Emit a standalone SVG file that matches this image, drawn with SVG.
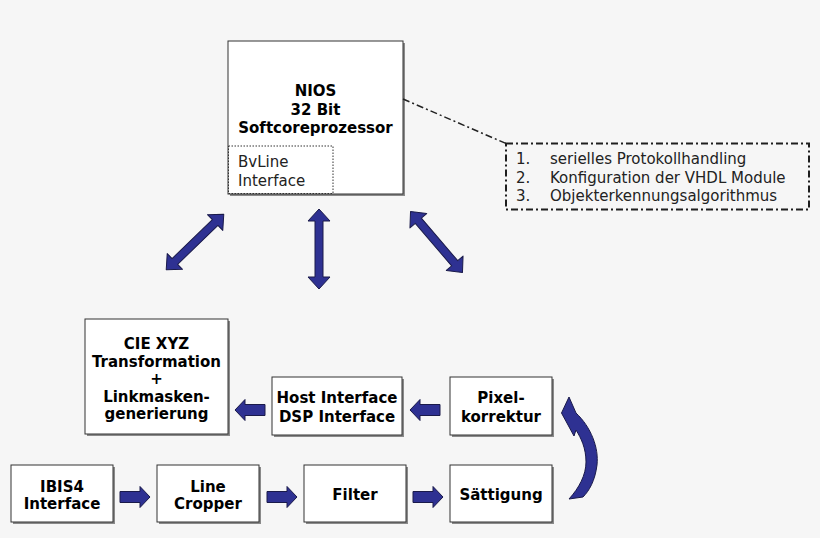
<svg xmlns="http://www.w3.org/2000/svg" width="820" height="538" viewBox="0 0 820 538">
<defs>
<style>
.bg{fill:#f6f6f6}
.shadow{fill:#8a8a8a}
.box{fill:#ffffff;stroke:#333333;stroke-width:1}
.b{font-family:"DejaVu Sans",Verdana,sans-serif;font-weight:bold;font-size:15px;fill:#000;text-anchor:middle}
.r{font-family:"DejaVu Sans",Verdana,sans-serif;font-size:15px;fill:#222}
.arr{fill:#2e3192;stroke:#1a1a4a;stroke-width:1;stroke-linejoin:round}
.dd{fill:none;stroke:#222;stroke-width:1.5;stroke-dasharray:7 3 2 3}
.ddb{fill:none;stroke:#1e1e1e;stroke-width:2;stroke-dasharray:7 3 2 3}
</style>
<path id="dbl" d="M-40,0 L-28,-11 L-28,-4 L28,-4 L28,-11 L40,0 L28,11 L28,4 L-28,4 L-28,11 Z"/>
<path id="rgt" d="M-15,-5.5 L5,-5.5 L5,-10.5 L15,0 L5,10.5 L5,5.5 L-15,5.5 Z"/>
</defs>
<rect class="bg" x="0" y="0" width="820" height="538"/>

<g id="nios">
<rect class="shadow" x="230" y="43" width="175" height="153"/>
<rect class="box" x="228" y="41" width="175" height="153"/>
<text class="b" x="315.5" y="96">NIOS</text>
<text class="b" x="315.5" y="114.5">32 Bit</text>
<text class="b" x="315.5" y="133" font-size="15.3">Softcoreprozessor</text>
</g>
<g id="bvline">
<rect x="228.5" y="146" width="104.5" height="47.5" fill="none" stroke="#333" stroke-width="1" stroke-dasharray="1.5 1.5"/>
<text class="r" x="238" y="167" font-size="15.5">BvLine</text>
<text class="r" x="238" y="186" font-size="15.5">Interface</text>
</g>
<g id="note">
<rect class="ddb" x="506" y="143.5" width="303" height="66"/>
<text class="r" x="516" y="164">1.</text>
<text class="r" x="550" y="164">serielles Protokollhandling</text>
<text class="r" x="516" y="182.5">2.</text>
<text class="r" x="550" y="182.5">Konfiguration der VHDL Module</text>
<text class="r" x="516" y="201">3.</text>
<text class="r" x="550" y="201">Objekterkennungsalgorithmus</text>
</g>

<g id="cie">
<rect class="shadow" x="87" y="321" width="143" height="115"/>
<rect class="box" x="85" y="319" width="143" height="115"/>
<text class="b" x="156.5" y="349">CIE XYZ</text>
<text class="b" x="156.5" y="366.5">Transformation</text>
<text class="b" x="156.5" y="384">+</text>
<text class="b" x="156.5" y="401.5">Linkmasken-</text>
<text class="b" x="156.5" y="418.5">generierung</text>
</g>
<g id="host">
<rect class="shadow" x="274" y="379" width="130" height="58"/>
<rect class="box" x="272" y="377" width="130" height="58"/>
<text class="b" x="337" y="403">Host Interface</text>
<text class="b" x="337" y="421.5">DSP Interface</text>
</g>
<g id="pixel">
<rect class="shadow" x="452" y="379" width="102" height="58"/>
<rect class="box" x="450" y="377" width="102" height="58"/>
<text class="b" x="501" y="403">Pixel-</text>
<text class="b" x="501" y="421.5">korrektur</text>
</g>
<g id="ibis4">
<rect class="shadow" x="13" y="467" width="102" height="57"/>
<rect class="box" x="11" y="465" width="102" height="57"/>
<text class="b" x="62" y="491.5">IBIS4</text>
<text class="b" x="62" y="509">Interface</text>
</g>
<g id="cropper">
<rect class="shadow" x="159" y="467" width="102" height="57"/>
<rect class="box" x="157" y="465" width="102" height="57"/>
<text class="b" x="208" y="491.5">Line</text>
<text class="b" x="208" y="509">Cropper</text>
</g>
<g id="filter">
<rect class="shadow" x="306" y="467" width="102" height="57"/>
<rect class="box" x="304" y="465" width="102" height="57"/>
<text class="b" x="355" y="500">Filter</text>
</g>
<g id="saettigung">
<rect class="shadow" x="452" y="467" width="102" height="57"/>
<rect class="box" x="450" y="465" width="102" height="57"/>
<text class="b" x="501" y="500">Sättigung</text>
</g>

<g id="connectors">
<line class="dd" x1="403" y1="99" x2="506" y2="143.5"/>
<use href="#dbl" class="arr" transform="translate(195,242) rotate(-44)"/>
<use href="#dbl" class="arr" transform="translate(319,249) rotate(90)"/>
<use href="#dbl" class="arr" transform="translate(436.5,242) rotate(49.5)"/>
<use href="#rgt" class="arr" transform="translate(135,497)"/>
<use href="#rgt" class="arr" transform="translate(282,497)"/>
<use href="#rgt" class="arr" transform="translate(428,497)"/>
<use href="#rgt" class="arr" transform="translate(425,410) rotate(180)"/>
<use href="#rgt" class="arr" transform="translate(250,410) rotate(180)"/>
<path class="arr" d="M561.5,413 L569,397 L576,413 C591,427 599,448 597,465 C595,481 589,491 583,497 L569,499 C579,488 586,475 586,462 C586,448 581,438 576,430 L574,436 Z"/>
</g>
</svg>
